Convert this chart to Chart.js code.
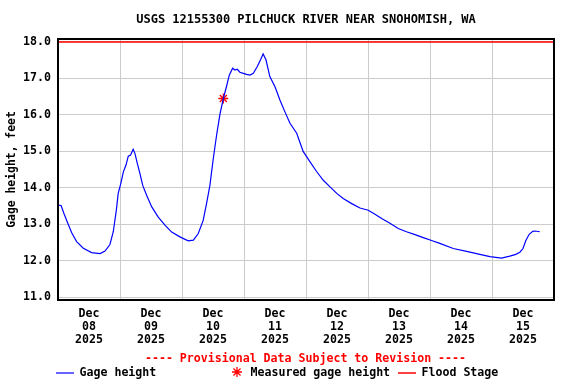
<!DOCTYPE html>
<html>
<head>
    <meta charset="utf-8" />
    <title>USGS 12155300 Pilchuck River</title>
    <script src="https://cdn.jsdelivr.net/npm/chart.js"></script>
    <style>
        body { margin: 0; background: #fff; }
    </style>
</head>
<body>
    <canvas id="gageChart" width="576" height="384"></canvas>

    <script>
        // hours since Dec 08 2025 00:00
        const gageHours = [
            0.0, 1.2, 2.3, 3.4, 5.3, 7.2, 9.8, 13.0, 16.3, 18.2, 20.1, 21.4, 22.6, 23.3,
            24.3, 25.3, 26.3, 27.2, 28.1, 29.1, 29.8, 30.7, 31.7, 32.8, 34.3, 36.3, 38.8,
            41.4, 44.0, 47.2, 50.4, 52.4, 54.3, 56.2, 57.5, 58.8, 60.1, 61.4, 62.7, 64.0,
            65.3, 66.3, 67.6, 68.5, 69.4, 70.4, 71.7, 73.0, 74.3, 75.6, 77.1, 78.4, 79.4,
            80.5, 82.0, 84.0, 85.9, 87.8, 89.8, 92.4, 94.9, 97.5, 100.1, 102.7, 105.3,
            107.9, 110.4, 113.7, 116.9, 120.1, 122.7, 125.3, 128.5, 131.7, 134.9, 138.2,
            141.4, 144.6, 147.8, 153.0, 158.2, 163.3, 167.2, 171.7, 174.9, 177.2, 178.8,
            180.0, 181.1, 182.4, 183.8, 184.6, 186.5
        ];
        const gageFeet = [
            13.53, 13.52, 13.30, 13.10, 12.77, 12.53, 12.35, 12.23, 12.20, 12.27, 12.45, 12.80, 13.40, 13.85,
            14.12, 14.44, 14.62, 14.87, 14.90, 15.06, 14.94, 14.67, 14.40, 14.07, 13.80, 13.48, 13.20,
            12.98, 12.79, 12.66, 12.55, 12.57, 12.75, 13.11, 13.57, 14.07, 14.80, 15.45, 16.02, 16.45,
            16.80, 17.09, 17.28, 17.23, 17.25, 17.17, 17.14, 17.11, 17.09, 17.14, 17.32, 17.51, 17.67,
            17.51, 17.05, 16.77, 16.41, 16.09, 15.77, 15.50, 15.00, 14.72, 14.45, 14.21, 14.03,
            13.85, 13.71, 13.57, 13.45, 13.39, 13.28, 13.16, 13.03, 12.89, 12.80, 12.72,
            12.64, 12.56, 12.48, 12.34, 12.26, 12.18, 12.12, 12.08, 12.13, 12.18, 12.24,
            12.34, 12.56, 12.73, 12.81, 12.82, 12.80
        ];
        const measuredHours = [64.0];
        const measuredFeet = [16.45];
        const floodStage = 18.0;

        const dayLabels = ['08', '09', '10', '11', '12', '13', '14', '15'];
        const yTicks = [11, 12, 13, 14, 15, 16, 17, 18];
        const xTicks = [];
        for (let h = 0; h <= 192; h += 12) xTicks.push(h);

        const monoFont = "'DejaVu Sans Mono', 'Liberation Mono', monospace";

        // frame round the plot + the legend under it
        const extras = {
            id: 'extras',
            afterDraw(chart) {
                const ctx = chart.ctx;
                const a = chart.chartArea;
                ctx.save();
                ctx.strokeStyle = '#000';
                ctx.lineWidth = 2;
                ctx.strokeRect(a.left, a.top, a.right - a.left, a.bottom - a.top);

                ctx.font = 'bold 11.6px ' + monoFont;
                ctx.textBaseline = 'middle';
                ctx.textAlign = 'center';
                ctx.fillStyle = '#ff0000';
                ctx.fillText('---- Provisional Data Subject to Revision ----', 305.5, 359);

                ctx.textAlign = 'left';
                ctx.lineWidth = 1.2;
                ctx.strokeStyle = '#0000ff';
                ctx.beginPath(); ctx.moveTo(56, 373); ctx.lineTo(74, 373); ctx.stroke();
                ctx.fillStyle = '#000';
                ctx.fillText('Gage height', 79.5, 373);

                ctx.strokeStyle = '#ff0000';
                ctx.lineWidth = 1.3;
                const sx = 237, sy = 372, r = 5;
                ctx.beginPath();
                for (let i = 0; i < 4; i++) {
                    const ang = i * Math.PI / 4;
                    ctx.moveTo(sx - r * Math.cos(ang), sy - r * Math.sin(ang));
                    ctx.lineTo(sx + r * Math.cos(ang), sy + r * Math.sin(ang));
                }
                ctx.stroke();
                ctx.fillText('Measured gage height', 250.5, 373);

                ctx.lineWidth = 1.5;
                ctx.beginPath(); ctx.moveTo(398, 373); ctx.lineTo(416, 373); ctx.stroke();
                ctx.fillText('Flood Stage', 421.5, 373);
                ctx.restore();
            }
        };

        const ctx = document.getElementById('gageChart').getContext('2d');
        const chart = new Chart(ctx, {
            type: 'line',
            data: {
                datasets: [
                    {
                        label: 'Gage height',
                        data: gageHours.map((h, i) => ({ x: h, y: gageFeet[i] })),
                        borderColor: '#0000ff',
                        borderWidth: 1.2,
                        pointRadius: 0,
                        tension: 0
                    },
                    {
                        label: 'Flood Stage',
                        data: [{ x: 0, y: floodStage }, { x: 192, y: floodStage }],
                        borderColor: '#ff0000',
                        borderWidth: 1.5,
                        pointRadius: 0
                    },
                    {
                        label: 'Measured gage height',
                        data: measuredHours.map((h, i) => ({ x: h, y: measuredFeet[i] })),
                        showLine: false,
                        pointStyle: 'star',
                        pointRadius: 5,
                        borderColor: '#ff0000',
                        borderWidth: 1.3
                    }
                ]
            },
            options: {
                responsive: false,
                animation: false,
                layout: { padding: { left: 0, right: 22, top: 0, bottom: 0 } },
                plugins: {
                    legend: { display: false },
                    tooltip: { enabled: false },
                    title: {
                        display: true,
                        fullSize: false,
                        text: 'USGS 12155300 PILCHUCK RIVER NEAR SNOHOMISH, WA',
                        color: '#000',
                        font: { family: monoFont, size: 12, weight: 'bold', lineHeight: 1.2 },
                        padding: { top: 13, bottom: 11.6 }
                    }
                },
                scales: {
                    x: {
                        type: 'linear',
                        min: 0,
                        max: 192,
                        afterFit: (scale) => { scale.height = 84; },
                        afterBuildTicks: (scale) => { scale.ticks = xTicks.map(v => ({ value: v })); },
                        border: { display: false },
                        grid: {
                            drawTicks: false,
                            color: (c) => (c.tick && c.tick.value % 24 === 0) ? '#cccccc' : 'rgba(0,0,0,0)',
                            lineWidth: 1
                        },
                        ticks: {
                            autoSkip: false,
                            maxRotation: 0,
                            padding: 7,
                            color: '#000',
                            font: { family: monoFont, size: 11.6, weight: 'bold', lineHeight: 1.15 },
                            callback: (v) => {
                                if (v % 24 !== 12) return '';
                                return ['Dec', dayLabels[Math.floor(v / 24)], '2025'];
                            }
                        }
                    },
                    y: {
                        min: 10.93,
                        max: 18.08,
                        afterFit: (scale) => { scale.width = 58; },
                        afterBuildTicks: (scale) => { scale.ticks = yTicks.map(v => ({ value: v })); },
                        border: { display: false },
                        grid: { drawTicks: false, color: '#cccccc', lineWidth: 1 },
                        ticks: {
                            padding: 7,
                            color: '#000',
                            font: { family: monoFont, size: 11.6, weight: 'bold' },
                            callback: (v) => Number(v).toFixed(1)
                        },
                        title: {
                            display: true,
                            text: 'Gage height, feet',
                            color: '#000',
                            font: { family: monoFont, size: 11.4, weight: 'bold', lineHeight: 1.2 },
                            padding: { top: 5, bottom: 0 }
                        }
                    }
                }
            },
            plugins: [extras]
        });
    </script>
</body>
</html>
